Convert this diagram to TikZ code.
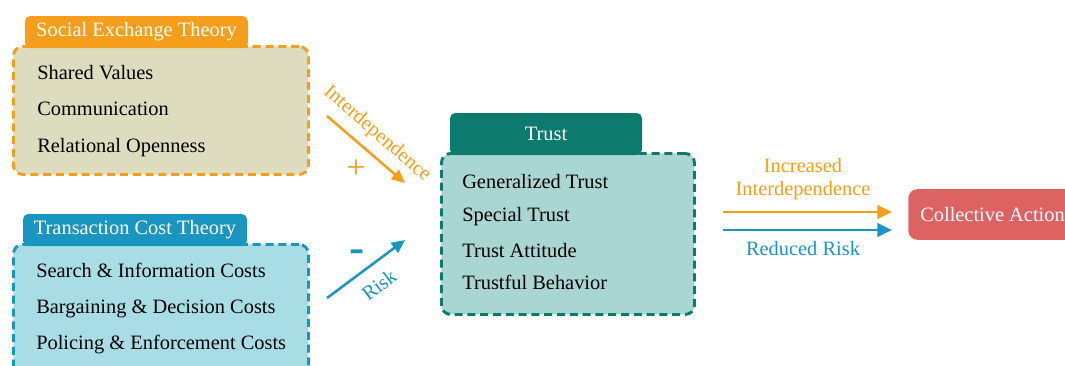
\documentclass[tikz,border=0pt]{standalone}
\usepackage{fontspec}
\setmainfont{Liberation Serif}
\usetikzlibrary{arrows.meta}
\definecolor{setorange}{HTML}{F59E1B}
\definecolor{setfill}{HTML}{DDDCBE}
\definecolor{tctblue}{HTML}{1A95C0}
\definecolor{tctfill}{HTML}{A8DDE6}
\definecolor{trustteal}{HTML}{0C7A6C}
\definecolor{trustfill}{HTML}{A9D5D2}
\definecolor{actionred}{HTML}{DD6363}
\begin{document}
\begin{tikzpicture}[x=0.75pt,y=-0.75pt,
  every node/.style={font=\fontsize{15.3pt}{18pt}\selectfont},
  body/.style={rectangle, rounded corners=7pt, line width=2.2pt,
    dash pattern=on 6pt off 3.6pt, inner sep=0pt, anchor=north west},
  tab/.style={rectangle, rounded corners=4pt, inner sep=0pt, text=white},
  item/.style={inner sep=0pt, anchor=base west, text=black},
  link/.style={line width=1.9pt, -{Triangle[length=10pt,width=9pt]}},
  flow/.style={line width=2.2pt, -{Triangle[length=11pt,width=10pt]}}
]
\useasboundingbox (0,0) rectangle (1065,365);
\fill[white] (0,0) rectangle (1065,365);
\clip (0,0) rectangle (1065,365);

% Social exchange theory
\node[body, draw=setorange, fill=setfill, minimum width=221.25pt, minimum height=96pt] (setbox) at (12,45) {};
\node[tab, fill=setorange, minimum width=167.25pt, minimum height=24pt] (settab) at (136.5,32) {Social Exchange Theory};
\node[item] (sv) at (37,79) {Shared Values};
\node[item] (com) at (37,115) {Communication};
\node[item] (ro) at (37,152) {Relational Openness};

% Transaction cost theory
\node[body, draw=tctblue, fill=tctfill, minimum width=221.25pt, minimum height=101pt] (tctbox) at (12,243) {};
\node[tab, fill=tctblue, minimum width=168pt, minimum height=24pt] (tcttab) at (135,230) {Transaction Cost Theory};
\node[item] (sic) at (36,277) {Search \& Information Costs};
\node[item] (bdc) at (36,313) {Bargaining \& Decision Costs};
\node[item] (pec) at (36,349) {Policing \& Enforcement Costs};

% Trust
\node[body, draw=trustteal, fill=trustfill, minimum width=189.75pt, minimum height=120.75pt] (trustbox) at (440,152) {};
\node[tab, fill=trustteal, minimum width=144pt, minimum height=31.5pt] (trusttab) at (546,134) {Trust};
\node[item] (gt) at (462,188) {Generalized Trust};
\node[item] (st) at (462,221) {Special Trust};
\node[item] (ta) at (462,257) {Trust Attitude};
\node[item] (tb) at (462,289) {Trustful Behavior};

% Influences on trust
\coordinate (inA) at (327,116);
\coordinate (inB) at (405,183);
\draw[link, setorange] (inA) -- (inB);
\node[text=setorange, rotate=-41, inner sep=0pt] (interlbl) at (377,134) {Interdependence};
\node[text=setorange, inner sep=0pt, font=\fontsize{25pt}{25pt}\selectfont] (plus) at (356,169) {+};

\coordinate (riA) at (327,298);
\coordinate (riB) at (405,240);
\draw[link, tctblue] (riA) -- (riB);
\node[text=tctblue, rotate=37, inner sep=0pt] (risklbl) at (379,285) {Risk};
\node[text=tctblue, inner sep=0pt, font=\fontsize{34pt}{34pt}\selectfont\bfseries] (minus) at (357,256) {-};

% Outcome
\coordinate (upA) at (723,212);
\coordinate (upB) at (892,212);
\coordinate (loA) at (723,230);
\coordinate (loB) at (892,230);
\draw[flow, setorange] (upA) -- (upB);
\draw[flow, tctblue] (loA) -- (loB);
\node[text=setorange, inner sep=0pt, anchor=base] (inc1) at (803,172) {Increased};
\node[text=setorange, inner sep=0pt, anchor=base] (inc2) at (803,195) {Interdependence};
\node[text=tctblue, inner sep=0pt, anchor=base] (red) at (803,255) {Reduced Risk};

\node[rectangle, rounded corners=7pt, fill=actionred, text=white, anchor=west,
  minimum height=38pt, inner xsep=9pt, inner ysep=0pt] (action) at (908,214.5) {Collective Action};
\end{tikzpicture}
\end{document}
